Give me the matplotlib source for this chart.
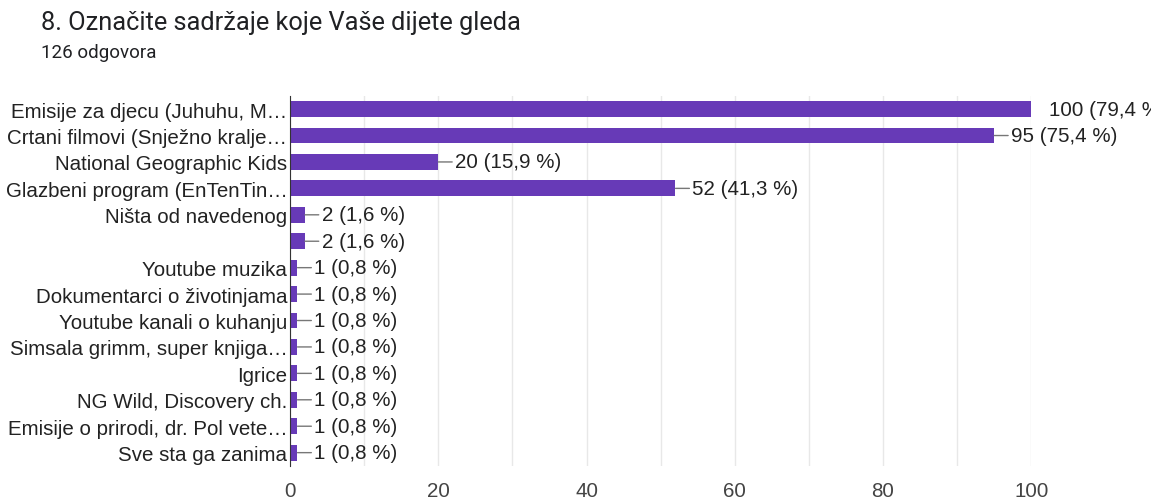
import matplotlib.pyplot as plt

plt.rcParams['font.family'] = ['Liberation Sans', 'DejaVu Sans']

categories = [
    "Emisije za djecu (Juhuhu, M…",
    "Crtani filmovi (Snježno kralje…",
    "National Geographic Kids",
    "Glazbeni program (EnTenTin…",
    "Ništa od navedenog",
    "",
    "Youtube muzika",
    "Dokumentarci o životinjama",
    "Youtube kanali o kuhanju",
    "Simsala grimm, super knjiga…",
    "Igrice",
    "NG Wild, Discovery ch.",
    "Emisije o prirodi, dr. Pol vete…",
    "Sve sta ga zanima",
]
counts = [100, 95, 20, 52, 2, 2, 1, 1, 1, 1, 1, 1, 1, 1]
percents = ["79,4", "75,4", "15,9", "41,3", "1,6", "1,6",
            "0,8", "0,8", "0,8", "0,8", "0,8", "0,8", "0,8", "0,8"]
xticks = [0, 20, 40, 60, 80, 100]

fig = plt.figure(figsize=(11.51, 5.02), dpi=100)
ax = fig.add_axes([0.252, 0.070, 0.644, 0.737])

ypos = list(range(len(categories)))
ax.barh(ypos, counts, height=0.6, color="#673ab7", zorder=3)
ax.set_ylim(len(categories) - 0.5, -0.5)
ax.set_xlim(0, 100)

ax.set_yticks(ypos)
ax.set_yticklabels(categories, fontsize=14.8, color="#222222")
ax.set_xticks(xticks)
ax.set_xticklabels([str(t) for t in xticks], fontsize=14.8, color="#444444")
ax.set_xticks(range(10, 100, 20), minor=True)
ax.tick_params(axis="both", which="both", length=0, pad=2)
ax.tick_params(axis="x", pad=11)

ax.grid(axis="x", which="both", color="#e8e8e8", linewidth=1, zorder=0)
for s in ["top", "right", "bottom"]:
    ax.spines[s].set_visible(False)
ax.spines["left"].set_color("#333333")
ax.spines["left"].set_zorder(4)

for y, c, p in zip(ypos, counts, percents):
    label = f"{c} ({p} %)"
    if c >= 100:
        # the reference crops this label at the image edge
        ax.annotate(label, xy=(c, y), xytext=(13, 0), textcoords="offset points",
                    va="center", ha="left", fontsize=14.8, color="#222222",
                    annotation_clip=False)
    else:
        ax.annotate(label, xy=(c, y), xytext=(12, 0), textcoords="offset points",
                    va="center", ha="left", fontsize=14.8, color="#222222",
                    arrowprops=dict(arrowstyle="-", color="#777777", lw=1,
                                    shrinkA=0, shrinkB=0))

fig.text(0.036, 0.955, "8. Označite sadržaje koje Vaše dijete gleda",
         fontsize=18.3, color="#202124", va="center", family="Roboto")
fig.text(0.036, 0.895, "126 odgovora", fontsize=13.5, color="#202124", va="center",
         family="Roboto")

fig.savefig("out.png", dpi=100)
